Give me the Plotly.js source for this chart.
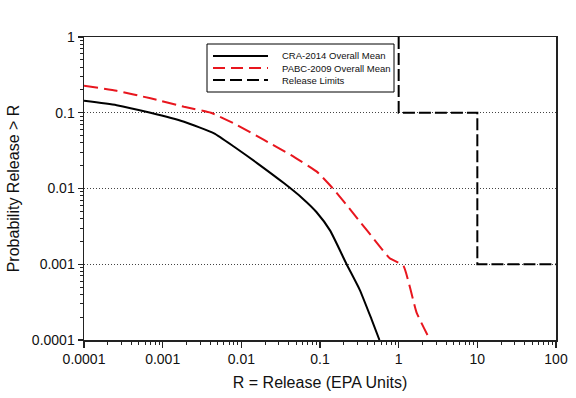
<!DOCTYPE html>
<html><head><meta charset="utf-8">
<script src="https://cdn.plot.ly/plotly-3.0.1.min.js"></script>
<style>html,body{margin:0;padding:0;background:#fff}</style>
</head><body>
<div id="chart" style="width:576px;height:398px"></div>
<script>
// Data
var craX = [0.0001, 0.00026, 0.0007, 0.00187, 0.0045, 0.0081, 0.016, 0.035, 0.06, 0.09, 0.134, 0.218, 0.32, 0.45, 0.57];
var craY = [0.144, 0.126, 0.1, 0.076, 0.0535, 0.0356, 0.0215, 0.0117, 0.0074, 0.0049, 0.0028, 0.001, 0.00046, 0.00019, 0.0001];
var pabcX = [0.0001, 0.00026, 0.0007, 0.00187, 0.0041, 0.0081, 0.0194, 0.0424, 0.091, 0.146, 0.265, 0.58, 0.77, 1.15, 1.69, 2.5];
var pabcY = [0.228, 0.195, 0.155, 0.12, 0.1, 0.072, 0.0437, 0.0277, 0.0167, 0.01, 0.0047, 0.0017, 0.0012, 0.00095, 0.00023, 0.0001];
var limitX = [1, 1, 10, 10, 100];
var limitY = [1, 0.1, 0.1, 0.001, 0.001];
var xTickVals = [0.0001, 0.001, 0.01, 0.1, 1, 10, 100];
var xTickText = ["0.0001", "0.001", "0.01", "0.1", "1", "10", "100"];
var yTickVals = [0.0001, 0.001, 0.01, 0.1, 1];
var yTickText = ["0.0001", "0.001", "0.01", "0.1", "1"];
var legendNames = ["CRA-2014 Overall Mean", "PABC-2009 Overall Mean", "Release Limits"];

var RED = "rgb(232,22,30)";
var FONT = "Arial, 'Liberation Sans', sans-serif";

var traces = [
  {x: craX, y: craY, mode: "lines", name: legendNames[0], line: {color: "#000", width: 2, shape: "spline", smoothing: 0.5}, showlegend: false},
  {x: pabcX, y: pabcY, mode: "lines", name: legendNames[1], line: {color: RED, width: 2, dash: "14px,6px", shape: "spline", smoothing: 0.4}, showlegend: false},
  {x: limitX, y: limitY, mode: "lines", name: legendNames[2], line: {color: "#000", width: 2, dash: "12px,4px"}, showlegend: false, cliponaxis: false}
];

// manual legend (pixel -> paper helpers)
var L = 84, R = 556, T = 37, B = 340;
function px(x){ return (x - L) / (R - L); }
function py(y){ return (B - y) / (B - T); }
var shapes = [
  {type: "rect", xref: "paper", yref: "paper", x0: px(207), x1: px(394), y0: py(44), y1: py(92), line: {color: "#000", width: 1}, fillcolor: "#fff", layer: "above"}
];
var legStyles = [
  {color: "#000", width: 2, dash: "solid"},
  {color: RED, width: 2, dash: "12px,6px"},
  {color: "#000", width: 2, dash: "12px,5px"}
];
var legY = [56, 68, 80];
var annotations = [];
for (var i = 0; i < 3; i++) {
  shapes.push({type: "line", xref: "paper", yref: "paper", x0: px(213), x1: px(268), y0: py(legY[i]), y1: py(legY[i]), line: legStyles[i], layer: "above"});
  annotations.push({xref: "paper", yref: "paper", x: px(280), y: py(legY[i]), xanchor: "left", yanchor: "middle", text: legendNames[i], showarrow: false, font: {family: FONT, size: 9.5, color: "#111"}});
}

var layout = {
  width: 576, height: 398,
  margin: {l: 84, r: 20, t: 37, b: 58},
  paper_bgcolor: "#fff", plot_bgcolor: "#fff",
  font: {family: FONT, color: "#111"},
  showlegend: false,
  xaxis: {
    type: "log", range: [-4, 2], tickvals: xTickVals, ticktext: xTickText,
    ticks: "outside", ticklen: 6, tickwidth: 1.2, tickcolor: "#222",
    minor: {ticks: "outside", ticklen: 3, tickwidth: 1, tickcolor: "#222", dtick: "D1", showgrid: false},
    showline: true, linecolor: "#222", linewidth: 1.5, mirror: true,
    showgrid: false, zeroline: false,
    tickfont: {size: 14, family: FONT, color: "#111"},
    title: {text: "R = Release (EPA Units)", font: {size: 16, family: FONT, color: "#111"}, standoff: 10}
  },
  yaxis: {
    type: "log", range: [-4, 0], tickvals: yTickVals, ticktext: yTickText,
    ticks: "outside", ticklen: 5, tickwidth: 1.2, tickcolor: "#222",
    minor: {ticks: "outside", ticklen: 3, tickwidth: 1, tickcolor: "#222", dtick: "D1", showgrid: false},
    showline: true, linecolor: "#222", linewidth: 1.5, mirror: true,
    showgrid: true, gridcolor: "#444", gridwidth: 1, griddash: "1px,2px", zeroline: false,
    tickfont: {size: 14, family: FONT, color: "#111"},
    title: {text: "Probability Release > R", font: {size: 16, family: FONT, color: "#111"}, standoff: 8}
  },
  shapes: shapes,
  annotations: annotations
};

Plotly.newPlot("chart", traces, layout, {displayModeBar: false, staticPlot: true});
</script>
</body></html>
